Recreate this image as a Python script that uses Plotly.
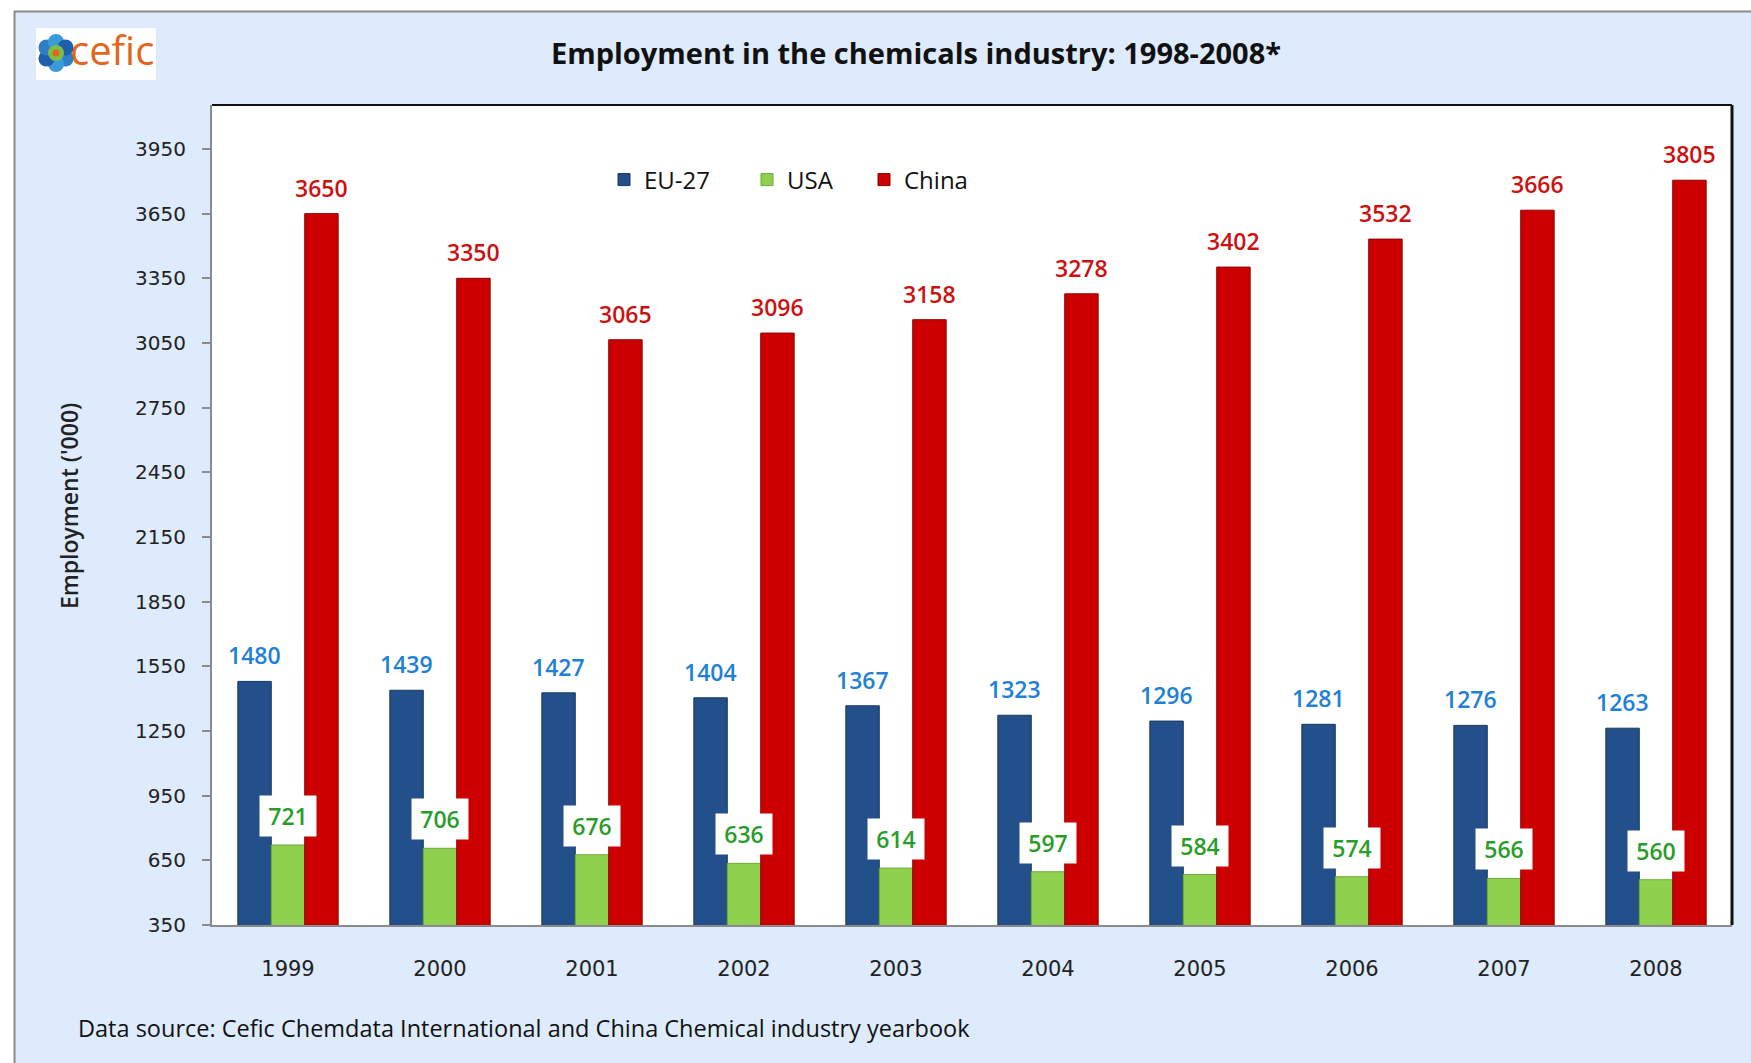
import math
import plotly.graph_objects as go

# ---------------- data ----------------
years = ["1999", "2000", "2001", "2002", "2003", "2004", "2005", "2006", "2007", "2008"]
eu27 = [1480, 1439, 1427, 1404, 1367, 1323, 1296, 1281, 1276, 1263]
usa = [721, 706, 676, 636, 614, 597, 584, 574, 566, 560]
china = [3650, 3350, 3065, 3096, 3158, 3278, 3402, 3532, 3666, 3805]
y_ticks = [350, 650, 950, 1250, 1550, 1850, 2150, 2450, 2750, 3050, 3350, 3650, 3950]
series_names = ["EU-27", "USA", "China"]

# ---------------- layout geometry ----------------
W, H = 1751, 1063
ML, MR, MT, MB = 212, 19, 105, 138
PW, PH = W - ML - MR, H - MT - MB
BARGAP = 0.34

def px_x(x):
    return (x - ML) / PW

def px_y(y):
    return (MT + PH - y) / PH

bar_colors = ["#234F8A", "#8FD14F", "#CC0000"]
line_colors = ["#17375E", "#6FA83A", "#8E0000"]
label_colors = ["#1E80D6", "#2A9C2A", "#CC1111"]
legend_widths = [98, 72, 80]
BG = "#DDEBFC"
FONT = "Open Sans"

xpos = list(range(len(years)))

fig = go.Figure()
for name, vals, c, lc, lw in zip(series_names, [eu27, usa, china], bar_colors, line_colors, legend_widths):
    fig.add_trace(go.Bar(
        x=xpos, y=vals, name=name, legendwidth=lw,
        marker=dict(color=c, line=dict(color=lc, width=1)),
        customdata=years, hovertemplate="%{customdata}: %{y}<extra>" + name + "</extra>",
    ))

# data labels
cat_w = PW / len(years)
bar_w = cat_w * (1 - BARGAP) / 3
annotations = []
for i, (vals, col) in enumerate(zip([eu27, usa, china], label_colors)):
    shift = (i - 1) * bar_w
    for xi, v in zip(xpos, vals):
        if i == 1:
            annotations.append(dict(
                x=xi, y=v, xref="x", yref="y", xshift=shift, yshift=8,
                yanchor="bottom", text=str(v), showarrow=False,
                font=dict(family=FONT, size=23, color=col, weight=600),
                bgcolor="white", borderpad=4, width=48,
            ))
        else:
            annotations.append(dict(
                x=xi, y=v, xref="x", yref="y", xshift=shift, yshift=8,
                yanchor="bottom", text=str(v), showarrow=False,
                font=dict(family=FONT, size=23, color=col, weight=600),
            ))

# y-axis title
annotations.append(dict(
    x=px_x(69), y=px_y(506), xref="paper", yref="paper",
    text="Employment ('000)", textangle=-90, showarrow=False,
    font=dict(family=FONT, size=23, color="#222222", weight=600),
    xanchor="center", yanchor="middle",
))
# footer
annotations.append(dict(
    x=px_x(76), y=px_y(1028), xref="paper", yref="paper",
    text="Data source: Cefic Chemdata International and China Chemical industry yearbook",
    showarrow=False, xanchor="left", yanchor="middle",
    font=dict(family=FONT, size=23.5, color="#111111"),
))
# logo text
annotations.append(dict(
    x=px_x(68), y=px_y(50), xref="paper", yref="paper",
    text="cefic", showarrow=False, xanchor="left", yanchor="middle",
    font=dict(family=FONT, size=40, color="#E2661B"),
))

shapes = [
    dict(type="rect", xref="paper", yref="paper", x0=px_x(0), x1=px_x(14), y0=px_y(H), y1=px_y(0),
         fillcolor="white", line=dict(width=0), layer="below"),
    dict(type="rect", xref="paper", yref="paper", x0=px_x(0), x1=px_x(W), y0=px_y(11), y1=px_y(0),
         fillcolor="white", line=dict(width=0), layer="below"),
    dict(type="line", xref="paper", yref="paper", x0=px_x(14), x1=px_x(W), y0=px_y(11.5), y1=px_y(11.5),
         line=dict(color="#8A8A8A", width=2)),
    dict(type="line", xref="paper", yref="paper", x0=px_x(14.5), x1=px_x(14.5), y0=px_y(11), y1=px_y(H),
         line=dict(color="#8A8A8A", width=2)),
    dict(type="line", xref="paper", yref="paper", x0=0, x1=1, y0=1, y1=1,
         line=dict(color="#111111", width=2)),
    dict(type="line", xref="paper", yref="paper", x0=1, x1=1, y0=0, y1=1,
         line=dict(color="#111111", width=3)),
    dict(type="rect", xref="paper", yref="paper", x0=px_x(36), x1=px_x(156), y0=px_y(80), y1=px_y(28),
         fillcolor="white", line=dict(width=0)),
]
cx, cy = 56, 53
for k in range(6):
    a = math.pi / 6 + k * math.pi / 3
    x0 = cx + 11 * math.cos(a)
    y0 = cy + 11 * math.sin(a)
    shapes.append(dict(type="circle", xref="paper", yref="paper",
                       x0=px_x(x0 - 8), x1=px_x(x0 + 8), y0=px_y(y0 + 8), y1=px_y(y0 - 8),
                       fillcolor=["#2F7FC8", "#3A9BD8", "#1F5FAA"][k % 3], line=dict(width=0)))
shapes.append(dict(type="circle", xref="paper", yref="paper",
                   x0=px_x(cx - 8), x1=px_x(cx + 8), y0=px_y(cy + 8), y1=px_y(cy - 8),
                   fillcolor="#7DBE4A", line=dict(width=0)))
shapes.append(dict(type="circle", xref="paper", yref="paper",
                   x0=px_x(cx - 3.5), x1=px_x(cx + 3.5), y0=px_y(cy + 3.5), y1=px_y(cy - 3.5),
                   fillcolor="#E2661B", line=dict(width=0)))

fig.update_layout(
    width=W, height=H, autosize=False,
    margin=dict(l=ML, r=MR, t=MT, b=MB),
    paper_bgcolor=BG, plot_bgcolor="white",
    barmode="group", bargap=BARGAP, bargroupgap=0,
    title=dict(
        text="Employment in the chemicals industry: 1998-2008*",
        xref="container", yref="container", x=916 / W, y=1 - 54 / H,
        xanchor="center", yanchor="middle",
        font=dict(family=FONT, size=29, color="#111111", weight=700),
    ),
    legend=dict(
        orientation="h", x=px_x(604), y=px_y(180), xanchor="left", yanchor="middle",
        font=dict(family=FONT, size=24, color="#111111"),
        bgcolor="rgba(0,0,0,0)",
    ),
    xaxis=dict(
        range=[-0.5, len(years) - 0.5], tickvals=xpos, ticktext=years,
        showline=True, linecolor="#8A8A8A", linewidth=2,
        ticks="", showgrid=False, zeroline=False,
        tickfont=dict(family="DejaVu Sans", size=21, color="#222222"),
        ticklabelstandoff=24,
    ),
    yaxis=dict(
        range=[350, 4154], tickvals=y_ticks, ticktext=[str(t) for t in y_ticks],
        showline=True, linecolor="#8A8A8A", linewidth=2,
        ticks="outside", ticklen=8, tickcolor="#8A8A8A", tickwidth=2,
        showgrid=False, zeroline=False,
        tickfont=dict(family="DejaVu Sans", size=20, color="#222222"),
        ticklabelstandoff=12,
    ),
    annotations=annotations,
    shapes=shapes,
    showlegend=True,
)

fig.write_html("out.html")
